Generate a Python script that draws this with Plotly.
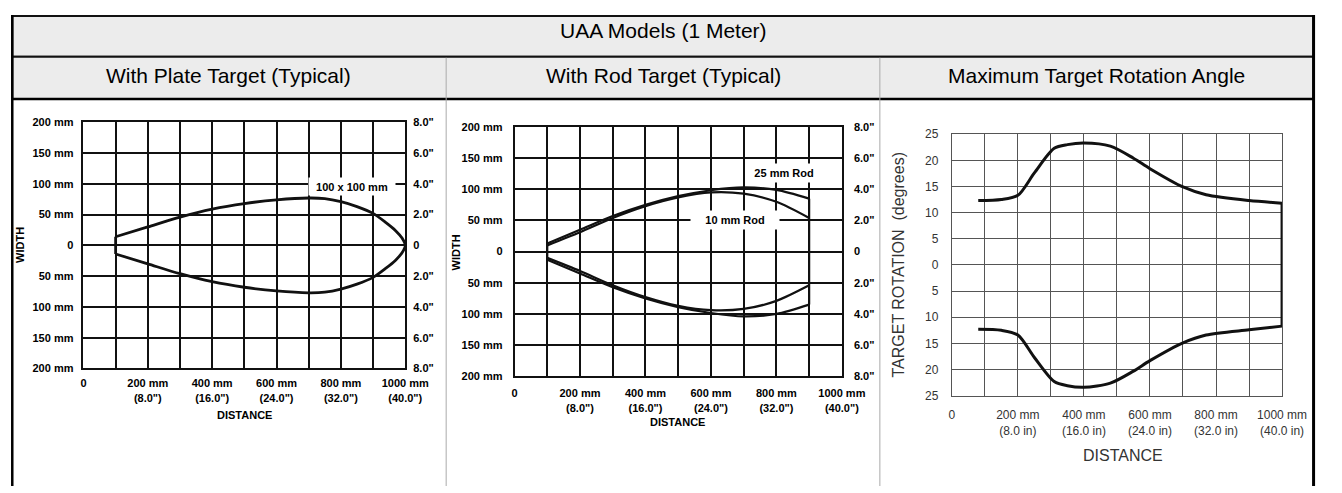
import plotly.graph_objects as go

# The page keeps the browser's default 8px body margin, so the figure is 8px
# smaller than the window and pixel positions below are window coordinates.
OFF = 8
W, H = 1342 - OFF, 493 - OFF

# ---------------- data ----------------
# Panel 1: plate target (distance mm, half-width mm)
plate_upper_dist = [100, 200, 300, 400, 500, 600, 700, 750, 800, 850, 900, 940, 970, 990, 1000]
plate_upper_width = [14, 30, 46, 59, 68, 74, 77, 76, 71, 63, 52, 37, 24, 12, 0]
plate_lower_dist = [1000, 990, 970, 940, 900, 850, 800, 750, 700, 600, 500, 400, 300, 200, 100]
plate_lower_width = [0, -12, -24, -37, -52, -63, -71, -76, -77, -74, -68, -59, -46, -30, -14]
plate_edge_dist = [100, 100]
plate_edge_width = [14, -14]

# Panel 2: rod targets
rod_dist = [100, 200, 300, 400, 500, 600, 700, 800, 900]
rod25_upper = [13, 35, 57, 75, 89, 98.5, 103, 99, 85]
rod25_lower = [-13, -35, -57, -75, -89, -98.5, -104, -100, -85]
rod10_upper = [10, 31, 54, 73, 87, 95, 93, 80, 54]
rod10_lower = [-10, -31, -54, -73, -87, -94, -92, -79, -54]
rod_near_dist = [100, 100]
rod_near_width = [13, -13]
rod_far_dist = [900, 900]
rod_far_width = [85, -85]

# Panel 3: maximum target rotation angle
rot_dist = [80, 150, 200, 250, 310, 350, 400, 480, 550, 600, 700, 770, 900, 1000]
rot_upper = [12.3, 12.5, 13.3, 17.6, 22.3, 23.0, 23.3, 22.7, 20.4, 18.4, 14.9, 13.4, 12.3, 11.8]
rot_lower = [-12.3, -12.5, -13.4, -17.7, -22.3, -23.1, -23.4, -22.6, -20.3, -18.3, -14.9, -13.4, -12.4, -11.7]
rot_edge_dist = [1000, 1000]
rot_edge_angle = [11.8, -11.7]

# tick labels
dist_vals = [0, 100, 200, 300, 400, 500, 600, 700, 800, 900, 1000]
dist_text_p1 = ["0", "", "200 mm<br>(8.0\")", "", "400 mm<br>(16.0\")", "", "600 mm<br>(24.0\")", "",
                "800 mm<br>(32.0\")", "", "1000 mm<br>(40.0\")"]
dist_text_mm = ["0", "", "200 mm", "", "400 mm", "", "600 mm", "", "800 mm", "", "1000 mm"]
dist_text_in = ["", "", "(8.0\")", "", "(16.0\")", "", "(24.0\")", "", "(32.0\")", "", "(40.0\")"]
dist_text_p3 = ["0", "", "200 mm<br>(8.0 in)", "", "400 mm<br>(16.0 in)", "", "600 mm<br>(24.0 in)", "",
                "800 mm<br>(32.0 in)", "", "1000 mm<br>(40.0 in)"]
width_vals = [-200, -150, -100, -50, 0, 50, 100, 150, 200]
width_text_mm = ["200 mm", "150 mm", "100 mm", "50 mm", "0", "50 mm", "100 mm", "150 mm", "200 mm"]
width_text_in = ["8.0\"", "6.0\"", "4.0\"", "2.0\"", "0", "2.0\"", "4.0\"", "6.0\"", "8.0\""]
angle_vals = [-25, -20, -15, -10, -5, 0, 5, 10, 15, 20, 25]
angle_text = ["25", "20", "15", "10", "5", "0", "5", "10", "15", "20", "25"]

header_title = "UAA Models (1 Meter)"
panel_titles = ["With Plate Target (Typical)", "With Rod Target (Typical)", "Maximum Target Rotation Angle"]

FONT = "Liberation Sans, Arial, Helvetica, sans-serif"


def px(x):
    return (x - OFF) / W


def py(y):
    return 1 - (y - OFF) / H


fig = go.Figure()

BLACK = "#111111"


def line_trace(x, y, xa, ya, width, shape="spline"):
    fig.add_trace(go.Scatter(x=x, y=y, xaxis=xa, yaxis=ya, mode="lines",
                             line=dict(color=BLACK, width=width, shape=shape, smoothing=0.8),
                             hoverinfo="skip", showlegend=False))


# panel 1
line_trace(plate_upper_dist + plate_lower_dist[1:], plate_upper_width + plate_lower_width[1:], "x", "y", 2.8)
line_trace(plate_edge_dist, plate_edge_width, "x", "y", 2.8, "linear")
# panel 2
line_trace(rod_dist, rod25_upper, "x2", "y2", 2.2)
line_trace(rod_dist, rod25_lower, "x2", "y2", 2.2)
line_trace(rod_dist, rod10_upper, "x2", "y2", 2.2)
line_trace(rod_dist, rod10_lower, "x2", "y2", 2.2)
line_trace(rod_near_dist, rod_near_width, "x2", "y2", 2.2, "linear")
line_trace(rod_far_dist, rod_far_width, "x2", "y2", 2.2, "linear")
# panel 3
line_trace(rot_dist, rot_upper, "x3", "y3", 3)
line_trace(rot_dist, rot_lower, "x3", "y3", 3)
line_trace(rot_edge_dist, rot_edge_angle, "x3", "y3", 3, "linear")

# invisible helpers so overlay axes get drawn
for xa, ya in [("x", "y4"), ("x2", "y5"), ("x4", "y2")]:
    fig.add_trace(go.Scatter(x=plate_edge_dist, y=plate_edge_width, xaxis=xa, yaxis=ya, mode="lines",
                             opacity=0, hoverinfo="skip", showlegend=False))

tick_bold = dict(family=FONT, size=11, color="#000000", weight="bold")
tick_reg = dict(family=FONT, size=12, color="#333333")

common_grid = dict(showgrid=True, gridcolor=BLACK, gridwidth=1.5, zeroline=False,
                   showline=True, linecolor=BLACK, linewidth=1.5, mirror=True, ticks="",
                   fixedrange=True)

layout_axes = dict(
    xaxis=dict(domain=[px(82), px(410.7)], anchor="y", range=[0, 1000], tickmode="array",
               tickvals=dist_vals, ticktext=dist_text_p1, tickfont=tick_bold, ticklabelstandoff=4,
               tickangle=0, **common_grid),
    yaxis=dict(domain=[py(372), py(118.5)], anchor="x", range=[-200, 200], tickmode="array",
               tickvals=width_vals, ticktext=width_text_mm, tickfont=tick_bold, ticklabelstandoff=6,
               **common_grid),
    yaxis4=dict(overlaying="y", anchor="x", side="right", range=[-200, 200], tickmode="array",
                tickvals=width_vals, ticktext=width_text_in, tickfont=tick_bold, ticklabelstandoff=7,
                showgrid=False, zeroline=False, showline=False, ticks="", fixedrange=True),
    xaxis2=dict(domain=[px(522.3), px(856.7)], anchor="y2", range=[0, 1000], tickmode="array",
                tickvals=dist_vals, ticktext=dist_text_mm, tickfont=tick_bold, ticklabelstandoff=6,
                tickangle=0, **common_grid),
    xaxis4=dict(overlaying="x2", anchor="y2", side="bottom", range=[0, 1000], tickmode="array",
                tickvals=dist_vals, ticktext=dist_text_in, tickfont=tick_bold, ticklabelstandoff=24,
                tickangle=0, showgrid=False, zeroline=False, showline=False, ticks="", fixedrange=True),
    yaxis2=dict(domain=[py(380), py(123.3)], anchor="x2", range=[-200, 200], tickmode="array",
                tickvals=width_vals, ticktext=width_text_mm, tickfont=tick_bold, ticklabelstandoff=8,
                **common_grid),
    yaxis5=dict(overlaying="y2", anchor="x2", side="right", range=[-200, 200], tickmode="array",
                tickvals=width_vals, ticktext=width_text_in, tickfont=tick_bold, ticklabelstandoff=11,
                showgrid=False, zeroline=False, showline=False, ticks="", fixedrange=True),
    xaxis3=dict(domain=[px(969), px(1306.3)], anchor="y3", range=[0, 1000], tickmode="array",
                tickvals=dist_vals, ticktext=dist_text_p3, tickfont=tick_reg, ticklabelstandoff=8,
                tickangle=0, showgrid=True, gridcolor="#555555", gridwidth=1, zeroline=False,
                showline=True, linecolor="#555555", linewidth=1, mirror=True, ticks="", fixedrange=True),
    yaxis3=dict(domain=[py(400), py(130.7)], anchor="x3", range=[-25, 25], tickmode="array",
                tickvals=angle_vals, ticktext=angle_text, tickfont=tick_reg, ticklabelstandoff=10,
                showgrid=True, gridcolor="#555555", gridwidth=1, zeroline=False,
                showline=True, linecolor="#555555", linewidth=1, mirror=True, ticks="", fixedrange=True),
)

shapes = [
    dict(type="rect", xref="paper", yref="paper", x0=px(9.3), x1=px(1338.5), y0=py(51), y1=py(9),
         fillcolor="#ececec", line=dict(color="#111111", width=2), layer="below"),
    dict(type="rect", xref="paper", yref="paper", x0=px(9.3), x1=px(1338.5), y0=py(94.5), y1=py(51),
         fillcolor="#ececec", line=dict(color="#111111", width=2), layer="below"),
    dict(type="line", xref="paper", yref="paper", x0=px(9.3), x1=px(1338.5), y0=py(94.5), y1=py(94.5),
         line=dict(color="#000000", width=2.5)),
    dict(type="line", xref="paper", yref="paper", x0=px(452.5), x1=px(452.5), y0=py(52), y1=0,
         line=dict(color="#aaaaaa", width=1)),
    dict(type="line", xref="paper", yref="paper", x0=px(895.5), x1=px(895.5), y0=py(52), y1=0,
         line=dict(color="#aaaaaa", width=1)),
    dict(type="line", xref="paper", yref="paper", x0=px(9.3), x1=px(9.3), y0=py(8), y1=0,
         line=dict(color="#000000", width=2.5)),
    dict(type="line", xref="paper", yref="paper", x0=px(1338.5), x1=px(1338.5), y0=py(8), y1=0,
         line=dict(color="#000000", width=3)),
]


def ann(text, x, y, size, color="#111111", bold=False, angle=0):
    return dict(text=text, xref="paper", yref="paper", x=px(x), y=py(y), xanchor="center",
                yanchor="middle", showarrow=False, textangle=angle,
                font=dict(family=FONT, size=size, color=color, weight="bold" if bold else "normal"))


annotations = [
    ann(header_title, 674, 23.5, 21, "#000000"),
    ann(panel_titles[0], 230.5, 70.5, 21, "#000000"),
    ann(panel_titles[1], 674, 70.5, 21, "#000000"),
    ann(panel_titles[2], 1117, 70.5, 21, "#000000"),
    ann("WIDTH", 17, 245, 11, "#000000", True, -90),
    ann("DISTANCE", 246.5, 420, 11, "#000000", True),
    ann("WIDTH", 462, 252, 11, "#000000", True, -90),
    ann("DISTANCE", 689, 427, 11, "#000000", True),
    ann("TARGET ROTATION  (degrees)", 915, 265, 16, "#333333", False, -90),
    ann("DISTANCE", 1144, 462, 16, "#333333", False),
    dict(text="100 x 100 mm", xref="x", yref="y", x=833, y=96, showarrow=False, bgcolor="#ffffff",
         width=84, height=15, font=dict(family=FONT, size=11, color="#000000", weight="bold")),
    dict(text="25 mm Rod", xref="x2", y=126, x=824, yref="y2", showarrow=False, bgcolor="#ffffff",
         width=70, height=16, font=dict(family=FONT, size=11, color="#000000", weight="bold")),
    dict(text="10 mm Rod", xref="x2", y=50, x=674, yref="y2", showarrow=False, bgcolor="#ffffff",
         width=86, height=16, font=dict(family=FONT, size=11, color="#000000", weight="bold")),
]

fig.update_layout(
    width=W, height=H,
    margin=dict(l=0, r=0, t=0, b=0),
    paper_bgcolor="#ffffff", plot_bgcolor="#ffffff",
    showlegend=False,
    shapes=shapes,
    annotations=annotations,
    font=dict(family=FONT),
    **layout_axes,
)

fig.write_html("out.html", config={"displayModeBar": False})
